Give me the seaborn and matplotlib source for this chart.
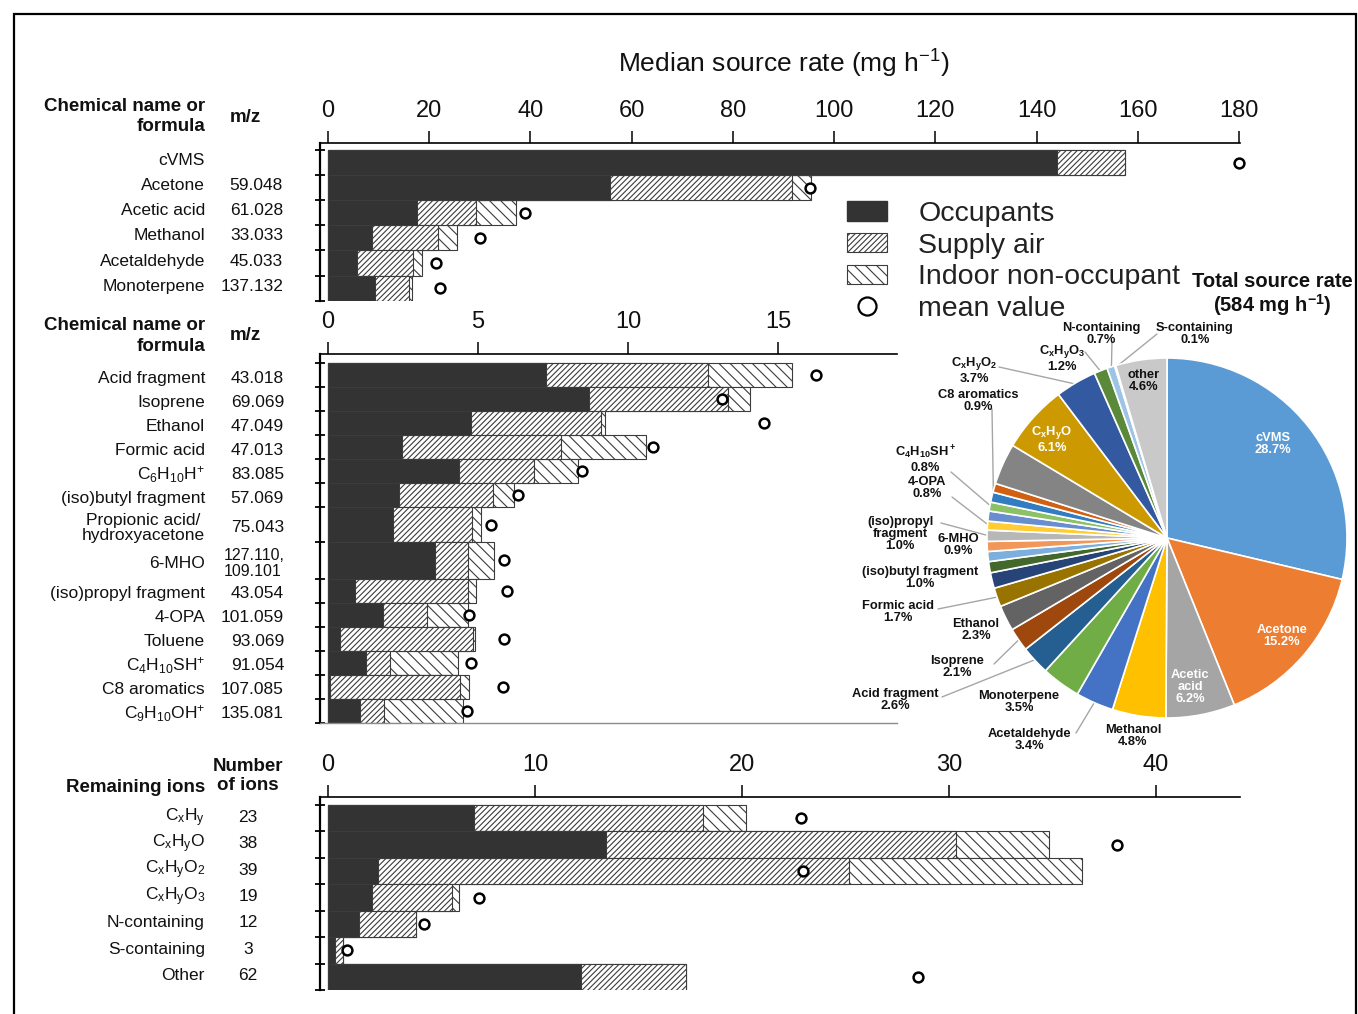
import numpy as np
import pandas as pd
import matplotlib
matplotlib.use("Agg")
import matplotlib.pyplot as plt
from matplotlib.patches import Patch, Rectangle
from matplotlib.lines import Line2D
from matplotlib.ticker import FixedLocator, NullLocator
from matplotlib.transforms import blended_transform_factory
import seaborn as sns

# ---------------- data ----------------
top_names = ["cVMS", "Acetone", "Acetic acid", "Methanol", "Acetaldehyde", "Monoterpene"]
top_mz = ["", "59.048", "61.028", "33.033", "45.033", "137.132"]
top_occ = [144.0, 55.8, 17.6, 8.7, 5.8, 9.2]
top_sup = [13.5, 35.9, 11.7, 13.1, 11.0, 6.9]
top_ind = [0.0, 3.7, 7.8, 3.7, 1.8, 0.5]
top_mean = [180.0, 95.2, 39.0, 30.0, 21.3, 22.1]
top_ticks = [0, 20, 40, 60, 80, 100, 120, 140, 160, 180]

mid_names = ["Acid fragment", "Isoprene", "Ethanol", "Formic acid", "C$_6$H$_{10}$H$^{+}$",
             "(iso)butyl fragment", "Propionic acid/\nhydroxyacetone", "6-MHO",
             "(iso)propyl fragment", "4-OPA", "Toluene", "C$_4$H$_{10}$SH$^{+}$",
             "C8 aromatics", "C$_9$H$_{10}$OH$^{+}$"]
mid_mz = ["43.018", "69.069", "47.049", "47.013", "83.085", "57.069", "75.043",
          "127.110,\n109.101", "43.054", "101.059", "93.069", "91.054", "107.085", "135.081"]
mid_occ = [7.28, 8.69, 4.78, 2.46, 4.35, 2.38, 2.15, 3.58, 0.91, 1.84, 0.41, 1.26, 0.05, 1.08]
mid_sup = [5.37, 4.64, 4.31, 5.30, 2.52, 3.11, 2.65, 1.08, 3.75, 1.46, 4.42, 0.80, 4.35, 0.80]
mid_ind = [2.80, 0.73, 0.14, 2.85, 1.45, 0.71, 0.31, 0.87, 0.27, 1.36, 0.07, 2.27, 0.31, 2.63]
mid_mean = [16.28, 13.12, 14.53, 10.83, 8.46, 6.32, 5.43, 5.88, 5.97, 4.71, 5.88, 4.78, 5.82, 4.62]
mid_ticks = [0, 5, 10, 15]

bot_names = ["C$_x$H$_y$", "C$_x$H$_y$O", "C$_x$H$_y$O$_2$", "C$_x$H$_y$O$_3$",
             "N-containing", "S-containing", "Other"]
bot_nions = [23, 38, 39, 19, 12, 3, 62]
bot_occ = [7.03, 13.43, 2.43, 2.12, 1.52, 0.36, 12.22]
bot_sup = [11.09, 16.91, 22.74, 3.88, 2.72, 0.38, 5.09]
bot_ind = [2.05, 4.49, 11.26, 0.31, 0.0, 0.0, 0.0]
bot_mean = [22.86, 38.1, 22.95, 7.31, 4.62, 0.91, 28.5]
bot_ticks = [0, 10, 20, 30, 40]

pie_names = ["cVMS", "Acetone", "Acetic\nacid", "Methanol", "Acetaldehyde", "Monoterpene",
             "Acid fragment", "Isoprene", "Ethanol", "Formic acid", "", "(iso)butyl fragment",
             "", "6-MHO", "(iso)propyl\nfragment", "4-OPA", "", r"$\mathbf{C_4H_{10}SH^+}$",
             "C8 aromatics", "", "", r"$\mathbf{C_xH_yO}$", r"$\mathbf{C_xH_yO_2}$",
             r"$\mathbf{C_xH_yO_3}$", "N-containing", "S-containing", "other"]
pie_pct = [28.7, 15.2, 6.2, 4.8, 3.4, 3.5, 2.6, 2.1, 2.3, 1.7, 1.4, 1.0, 0.9, 0.9, 1.0,
           0.8, 0.9, 0.8, 0.9, 0.8, 3.7, 6.1, 3.7, 1.2, 0.7, 0.1, 4.6]
pie_colors = ["#5B9BD5", "#ED7D31", "#A5A5A5", "#FFC000", "#4472C4", "#70AD47",
              "#255E91", "#9E480E", "#636363", "#997300", "#264478", "#43682B",
              "#7CAFDD", "#F1975A", "#B7B7B7", "#FFCD33", "#698ED0", "#8CC168",
              "#327DC2", "#D26012", "#848484", "#CC9A00", "#335AA1", "#5A8A39",
              "#9DC3E6", "#F4B183", "#C9C9C9"]
total_rate = 584

# ---------------- style ----------------
sns.set_style("white")
plt.rcParams["font.family"] = ["Liberation Sans", "DejaVu Sans"]
plt.rcParams["mathtext.fontset"] = "custom"
plt.rcParams["mathtext.rm"] = "Liberation Sans"
plt.rcParams["mathtext.it"] = "Liberation Sans:italic"
plt.rcParams["mathtext.bf"] = "Liberation Sans:bold"
plt.rcParams["mathtext.default"] = "regular"
plt.rcParams["hatch.linewidth"] = 0.8
plt.rcParams["text.color"] = "#111111"

DARK = "#333333"
EDGE = "#3c3c3c"
H_SUP = "//////"
H_IND = "\\\\\\"
W, H = 1358, 1014
X0 = 328      # pixel of value 0 on every bar panel
XL = 320      # pixel of left spine

fig = plt.figure(figsize=(W / 100, H / 100), dpi=100)
fig.patch.set_facecolor("white")


def fx(p):
    return p / W


def fy(p):
    return 1 - p / H


def add_ax(l, t, r, b):
    return fig.add_axes([fx(l), fy(b), (r - l) / W, (b - t) / H])


def finish_panel(ax, ppu, right_px, ticks, bounds, ylim, bottom=False):
    ax.set_xlim(-(X0 - XL) / ppu, (right_px - X0) / ppu)
    ax.set_ylim(*ylim)
    ax.xaxis.tick_top()
    ax.set_xticks(ticks)
    ax.set_xticklabels([str(t) for t in ticks])
    ax.tick_params(axis="x", which="major", top=True, bottom=False, direction="out",
                   length=9, width=1.1, pad=6, labelsize=17, colors="black",
                   labelcolor="#111111")
    ax.yaxis.set_major_locator(NullLocator())
    ax.yaxis.set_minor_locator(FixedLocator(bounds))
    ax.tick_params(axis="y", which="minor", left=True, direction="inout", length=7,
                   width=1.3, colors="black")
    ax.tick_params(axis="y", labelleft=False)
    ax.spines["right"].set_visible(False)
    if bottom:
        ax.spines["bottom"].set_color("#8c8c8c")
        ax.spines["bottom"].set_linewidth(1.0)
    else:
        ax.spines["bottom"].set_visible(False)
    ax.spines["top"].set_color("black")
    ax.spines["top"].set_linewidth(1.2)
    ax.spines["left"].set_color("black")
    ax.spines["left"].set_linewidth(1.6)
    ax.set_xlabel("")
    ax.set_ylabel("")
    ax.set_facecolor("none")


def sns_stacked(ax, names, occ, sup, ind):
    occ = np.asarray(occ, float)
    s = occ + np.asarray(sup, float)
    t = s + np.asarray(ind, float)
    df = pd.DataFrame({"name": names, "occ": occ, "sup": s, "tot": t})
    common = dict(data=df, y="name", orient="y", width=1.0, errorbar=None,
                  saturation=1, ax=ax, linewidth=0.8, edgecolor=EDGE)
    sns.barplot(x="tot", color="white", hatch=H_IND, **common)
    sns.barplot(x="sup", color="white", hatch=H_SUP, **common)
    sns.barplot(x="occ", color=DARK, **common)


def row_text(ax, ys, texts, x_px, ha, size=12.5, dy_px=0.0, **kw):
    tr = blended_transform_factory(fig.transFigure, ax.transData)
    off = matplotlib.transforms.ScaledTranslation(0, -dy_px / 100.0, fig.dpi_scale_trans)
    for y, t in zip(ys, texts):
        ax.text(fx(x_px), y, t, transform=tr + off, ha=ha, va="center", fontsize=size,
                clip_on=False, **kw)


mean_kw = dict(s=50, color="white", edgecolor="black", linewidth=1.8, marker="o",
               zorder=5, legend=False, clip_on=False)

# ---------------- top panel ----------------
ax1 = add_ax(XL, 142.7, 1240, 300.7)
sns_stacked(ax1, top_names, top_occ, top_sup, top_ind)
sns.scatterplot(x=top_mean, y=top_names, ax=ax1, **mean_kw)
n1 = len(top_names)
finish_panel(ax1, 5.061, 1240, top_ticks, np.arange(-0.5, n1, 1.0),
             (n1 - 0.5, -0.5 - 7.4 / 25.1))
row_text(ax1, range(n1), top_names, 205, "right", dy_px=-2)
row_text(ax1, range(n1), top_mz, 283, "right", dy_px=-2)

fig.text(fx(784), fy(64), "Median source rate (mg h$^{-1}$)", ha="center", va="center",
         fontsize=19)
fig.text(fx(205), fy(116.5), "Chemical name or\nformula", ha="right", va="center",
         fontsize=13.5, fontweight="bold", linespacing=1.3)
fig.text(fx(245), fy(117), "m/z", ha="center", va="center", fontsize=13.5, fontweight="bold")

# ---------------- middle panel ----------------
ax2 = add_ax(XL, 354, 897, 723)
spans = np.array([1, 1, 1, 1, 1, 1, 1.45, 1.5, 1, 1, 1, 1, 1, 1])
bounds = np.concatenate([[0], np.cumsum(spans)])
centers = (bounds[:-1] + bounds[1:]) / 2
m_occ = np.asarray(mid_occ)
m_sup = m_occ + np.asarray(mid_sup)
m_tot = m_sup + np.asarray(mid_ind)
ax2.barh(centers, m_tot, height=spans, color="white", hatch=H_IND, edgecolor=EDGE, lw=0.8)
ax2.barh(centers, m_sup, height=spans, color="white", hatch=H_SUP, edgecolor=EDGE, lw=0.8)
ax2.barh(centers, m_occ, height=spans, color=DARK, edgecolor=EDGE, lw=0.8)
sns.scatterplot(x=mid_mean, y=centers, ax=ax2, **mean_kw)
ppu2 = 30.0
gap2 = 9.0 / (360.0 / bounds[-1])
finish_panel(ax2, ppu2, 897, mid_ticks, bounds, (bounds[-1], -gap2), bottom=True)
row_text(ax2, centers, mid_names, 205, "right", dy_px=3, multialignment="center",
         linespacing=1.05)
mz_single = [m if "\n" not in m else "" for m in mid_mz]
row_text(ax2, centers, mz_single, 284, "right", dy_px=3)
for c, m in zip(centers, mid_mz):
    if "\n" in m:
        row_text(ax2, [c], [m], 224, "left", size=11.5, dy_px=3, linespacing=1.05)
fig.text(fx(205), fy(336), "Chemical name or\nformula", ha="right", va="center",
         fontsize=13.5, fontweight="bold", linespacing=1.25)
fig.text(fx(245), fy(336), "m/z", ha="center", va="center", fontsize=13.5, fontweight="bold")

# ---------------- bottom panel ----------------
ax3 = add_ax(XL, 797, 1240, 990)
sns_stacked(ax3, bot_names, bot_occ, bot_sup, bot_ind)
sns.scatterplot(x=bot_mean, y=bot_names, ax=ax3, **mean_kw)
n3 = len(bot_names)
finish_panel(ax3, 20.7, 1240, bot_ticks, np.arange(-0.5, n3, 1.0),
             (n3 - 0.5, -0.5 - 8.0 / 26.4))
row_text(ax3, range(n3), bot_names, 205, "right", dy_px=-1)
row_text(ax3, range(n3), [str(v) for v in bot_nions], 248, "center", dy_px=-1)
fig.text(fx(205), fy(787), "Remaining ions", ha="right", va="center", fontsize=13.5,
         fontweight="bold")
fig.text(fx(248), fy(776), "Number\nof ions", ha="center", va="center", fontsize=13.5,
         fontweight="bold", linespacing=1.2)

# ---------------- legend ----------------
handles = [Patch(facecolor=DARK, edgecolor=DARK),
           Patch(facecolor="white", edgecolor=EDGE, hatch=H_SUP, lw=0.8),
           Patch(facecolor="white", edgecolor=EDGE, hatch=H_IND, lw=0.8),
           Line2D([], [], ls="", marker="o", ms=13, mfc="white", mec="black", mew=1.6)]
fig.legend(handles, ["Occupants", "Supply air", "Indoor non-occupant", "mean value"],
           loc="upper left", bbox_to_anchor=(fx(847), fy(201)), frameon=False,
           fontsize=20.5, handlelength=1.4, handleheight=0.65, handletextpad=1.1,
           labelspacing=0.2, borderpad=0, borderaxespad=0, labelcolor="#222222")

fig.text(fx(1272), fy(295), "Total source rate\n(%d mg h$^{\\mathbf{-1}}$)" % total_rate,
         ha="center", va="center", fontsize=14.5, fontweight="bold", linespacing=1.05)

# ---------------- pie ----------------
PCX, PCY, PR = 1167, 538, 180
axp = add_ax(PCX - PR, PCY - PR, PCX + PR, PCY + PR)
wedges, _ = axp.pie(pie_pct, colors=pie_colors, startangle=90, counterclock=False,
                    radius=1, wedgeprops=dict(edgecolor="white", linewidth=1.2))
axp.set_xlim(-1, 1)
axp.set_ylim(-1, 1)
axp.set_aspect("equal")
axp.axis("off")


def pxy(px, py):
    return ((px - PCX) / PR, (PCY - py) / PR)


# label placement (pixel centre, text colour, optional leader start)
pie_layout = {
    0: ((1273, 444), "white", None),
    1: ((1282, 636), "white", None),
    2: ((1190, 687), "white", None),
    3: ((1133, 736), "#111111", None),
    4: ((1029, 740), "#111111", (1076, 733)),
    5: ((1019, 702), "#111111", None),
    6: ((895, 700), "#111111", (942, 697)),
    7: ((957, 667), "#111111", (994, 664)),
    8: ((976, 630), "#111111", None),
    9: ((898, 612), "#111111", (938, 609)),
    11: ((920, 578), "#111111", None),
    13: ((958, 545), "#111111", None),
    14: ((900, 534), "#111111", (941, 523)),
    15: ((927, 488), "#111111", (952, 497)),
    17: ((925, 459), "#111111", (951, 472)),
    18: ((978, 401), "#111111", (992, 409)),
    21: ((1052, 439), "white", None),
    22: ((974, 370), "#111111", (999, 367)),
    23: ((1062, 358), "#111111", (1085, 352)),
    24: ((1101, 334), "#111111", (1112, 341)),
    25: ((1195, 334), "#111111", (1157, 334)),
    26: ((1144, 381), "#111111", None),
}
for i, ((lx, ly), col, lead) in pie_layout.items():
    w = wedges[i]
    th = np.deg2rad((w.theta1 + w.theta2) / 2)
    if lead is not None:
        ex, ey = 0.99 * np.cos(th), 0.99 * np.sin(th)
        sx, sy = pxy(*lead)
        axp.plot([sx, ex], [sy, ey], color="#a6a6a6", lw=1.0, clip_on=False, zorder=0.5)
    x, y = pxy(lx, ly)
    axp.text(x, y, "%s\n%.1f%%" % (pie_names[i], pie_pct[i]), ha="center", va="center",
             fontsize=9.3, fontweight="bold", color=col, linespacing=1.05,
             multialignment="center", clip_on=False)

# ---------------- frame ----------------
fig.add_artist(Rectangle((fx(14), fy(1040)), (1356 - 14) / W, (1040 - 14) / H,
                         transform=fig.transFigure, fill=False, lw=1.6, ec="black"))

fig.savefig("out.png", dpi=100, facecolor="white")
